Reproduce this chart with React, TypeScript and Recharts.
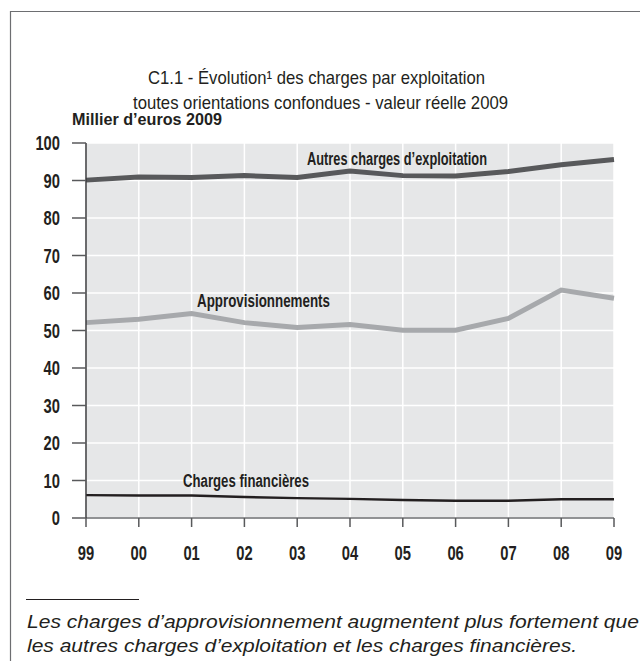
import React from "react";
import { LineChart, Line, XAxis, YAxis, CartesianGrid } from "recharts";

const YEARS = ["99", "00", "01", "02", "03", "04", "05", "06", "07", "08", "09"];
const AUTRES = [90.1, 90.9, 90.8, 91.3, 90.8, 92.5, 91.3, 91.2, 92.4, 94.2, 95.6];
const APPRO = [52.1, 53.0, 54.5, 52.1, 50.8, 51.6, 50.1, 50.1, 53.2, 60.8, 58.6];
const FINANC = [6.1, 6.0, 6.0, 5.6, 5.3, 5.1, 4.8, 4.6, 4.6, 5.0, 5.0];
const Y_TICKS = [0, 10, 20, 30, 40, 50, 60, 70, 80, 90, 100];

const data = YEARS.map((year, i) => ({
  year,
  autres: AUTRES[i],
  appro: APPRO[i],
  financ: FINANC[i],
}));

const SANS = "'Liberation Sans', Arial, Helvetica, sans-serif";
const INK = "#231f20";

// condensed look: squeeze Liberation Sans to a fixed width per char
function narrowLen(s: string) {
  return s.length * 8.2;
}

function YTick(props: any) {
  const { x, y, payload } = props;
  const s = String(payload.value);
  return (
    <text x={x} y={y} dy="0.36em" textAnchor="end" fontFamily={SANS} fontSize={20} fontWeight={700} fill={INK}
      textLength={narrowLen(s)} lengthAdjust="spacingAndGlyphs">
      {s}
    </text>
  );
}

function XTick(props: any) {
  const { x, y, payload } = props;
  const s = String(payload.value);
  return (
    <text x={x} y={y} dy="0.71em" textAnchor="middle" fontFamily={SANS} fontSize={20} fontWeight={700} fill={INK}
      textLength={narrowLen(s)} lengthAdjust="spacingAndGlyphs">
      {s}
    </text>
  );
}

function Squeezed(p: { x: number; y: number; len: number; size: number; bold?: boolean; italic?: boolean; children: string }) {
  return (
    <text x={p.x} y={p.y} fontFamily={SANS} fontSize={p.size}
      fontWeight={p.bold ? 700 : 400} fontStyle={p.italic ? "italic" : "normal"} fill={INK}
      textLength={p.len} lengthAdjust="spacingAndGlyphs">
      {p.children}
    </text>
  );
}

export default function App() {
  return (
    <div style={{ position: "absolute", left: 0, top: 0, width: 640, height: 661, background: "#fff", overflow: "hidden" }}>
      <LineChart
        width={640}
        height={661}
        data={data}
        margin={{ top: 143, right: 26, bottom: 113, left: 26 }}
      >
        <CartesianGrid fill="#e6e7e8" stroke="#ffffff" strokeWidth={1.5} />
        <XAxis
          dataKey="year"
          height={30}
          interval={0}
          tickSize={9}
          tickMargin={19}
          axisLine={{ stroke: "#6d6e71", strokeWidth: 1.5 }}
          tickLine={{ stroke: "#58595b", strokeWidth: 1.5 }}
          tick={<XTick />}
        />
        <YAxis
          width={60}
          domain={[0, 100]}
          ticks={Y_TICKS}
          interval={0}
          tickSize={14}
          tickMargin={12}
          axisLine={{ stroke: "#3a3a3c", strokeWidth: 1.5 }}
          tickLine={{ stroke: "#58595b", strokeWidth: 1.5 }}
          tick={<YTick />}
        />
        <Line dataKey="autres" type="linear" stroke="#58595b" strokeWidth={5} dot={false} isAnimationActive={false} />
        <Line dataKey="appro" type="linear" stroke="#a7a9ac" strokeWidth={5} dot={false} isAnimationActive={false} />
        <Line dataKey="financ" type="linear" stroke={INK} strokeWidth={2.5} dot={false} isAnimationActive={false} />
      </LineChart>
      <svg width={640} height={661} style={{ position: "absolute", left: 0, top: 0, pointerEvents: "none" }}>
        <line x1={10} y1={11.5} x2={640} y2={11.5} stroke="#6d6e71" strokeWidth={1.2} />
        <line x1={10.5} y1={11} x2={10.5} y2={661} stroke="#6d6e71" strokeWidth={1.2} />
        {/* title */}
        <Squeezed x={148} y={84} len={337} size={19}>C1.1 - Évolution¹ des charges par exploitation</Squeezed>
        <Squeezed x={133} y={109} len={375} size={19}>toutes orientations confondues - valeur réelle 2009</Squeezed>
        <Squeezed x={72} y={125} len={150} size={17} bold>Millier d’euros 2009</Squeezed>
        {/* series labels */}
        <Squeezed x={307} y={165} len={180} size={18} bold>Autres charges d’exploitation</Squeezed>
        <Squeezed x={197} y={307} len={133} size={18} bold>Approvisionnements</Squeezed>
        <Squeezed x={183} y={487} len={126} size={18} bold>Charges financières</Squeezed>
        {/* note */}
        <line x1={26} y1={599.5} x2={139} y2={599.5} stroke={INK} strokeWidth={1} />
        <Squeezed x={27} y={628} len={612} size={19} italic>Les charges d’approvisionnement augmentent plus fortement que</Squeezed>
        <Squeezed x={27} y={652} len={550} size={19} italic>les autres charges d’exploitation et les charges financières.</Squeezed>
      </svg>
    </div>
  );
}
